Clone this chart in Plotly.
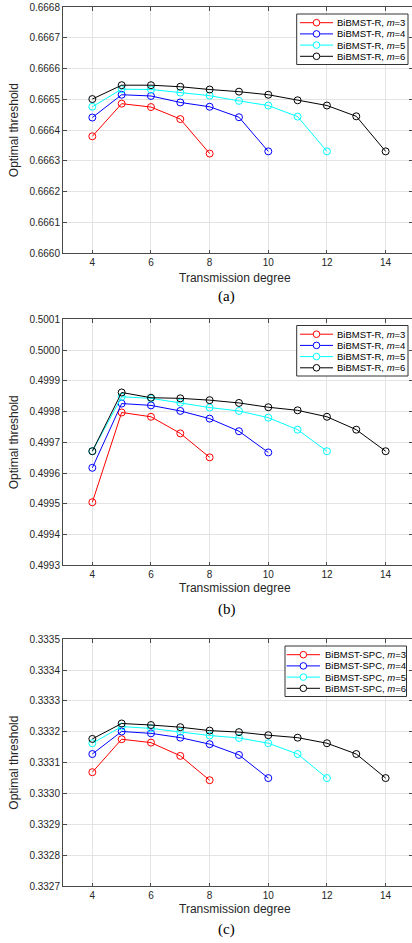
import plotly.graph_objects as go

# ---------------- data ----------------
deg_m3 = [4, 5, 6, 7, 8]
deg_m4 = [4, 5, 6, 7, 8, 9, 10]
deg_m5 = [4, 5, 6, 7, 8, 9, 10, 11, 12]
deg_m6 = [4, 5, 6, 7, 8, 9, 10, 11, 12, 13, 14]

a_m3 = [0.666380, 0.666486, 0.666475, 0.666436, 0.666324]
a_m4 = [0.666441, 0.666515, 0.666511, 0.666490, 0.666476, 0.666442, 0.666331]
a_m5 = [0.666476, 0.666533, 0.666532, 0.666522, 0.666512, 0.666495, 0.666480, 0.666444, 0.666331]
a_m6 = [0.666501, 0.666546, 0.666546, 0.666541, 0.666532, 0.666525, 0.666515, 0.666497, 0.666480, 0.666445, 0.666331]

b_m3 = [0.499505, 0.499797, 0.499783, 0.499729, 0.499651]
b_m4 = [0.499617, 0.499826, 0.499820, 0.499802, 0.499777, 0.499736, 0.499667]
b_m5 = [0.499671, 0.499848, 0.499843, 0.499829, 0.499813, 0.499802, 0.499780, 0.499741, 0.499671]
b_m6 = [0.499671, 0.499862, 0.499845, 0.499843, 0.499837, 0.499828, 0.499814, 0.499804, 0.499783, 0.499741, 0.499671]

c_m3 = [0.333069, 0.333176, 0.333165, 0.333122, 0.333043]
c_m4 = [0.333128, 0.333201, 0.333195, 0.333181, 0.333160, 0.333125, 0.333050]
c_m5 = [0.333163, 0.333217, 0.333211, 0.333200, 0.333188, 0.333180, 0.333163, 0.333128, 0.333050]
c_m6 = [0.333177, 0.333227, 0.333222, 0.333215, 0.333204, 0.333199, 0.333189, 0.333181, 0.333163, 0.333128, 0.333050]

m_values = [3, 4, 5, 6]
series_colors = ["#FF0000", "#0000FF", "#00FFFF", "#000000"]
panel_methods = ["BiBMST-R", "BiBMST-R", "BiBMST-SPC"]
panel_labels = ["(a)", "(b)", "(c)"]
y_ranges = [(0.6660, 0.6668), (0.4993, 0.5001), (0.3327, 0.3335)]
x_ticks = [4, 6, 8, 10, 12, 14]
x_title = "Transmission degree"
y_title = "Optimal threshold"

degrees = [deg_m3, deg_m4, deg_m5, deg_m6]
panels = [[a_m3, a_m4, a_m5, a_m6], [b_m3, b_m4, b_m5, b_m6], [c_m3, c_m4, c_m5, c_m6]]

# ---------------- layout geometry (pixels) ----------------
W, H = 412, 943
L, R, T, B = 63, 412, 7, 886
panel_px = [(7, 253.3), (319.3, 565.3), (639.3, 886)]


def px2x(px):
    return (px - L) / (R - L)


def py2y(py):
    return (B - py) / (B - T)


fig = go.Figure()

axis_color = "#4a4a4a"
grid_color = "#e3e3e3"
tick_font = dict(family="Liberation Sans, Arial, sans-serif", size=10, color="#262626")

layout = dict(
    width=W, height=H,
    margin=dict(l=L, r=W - R, t=T, b=H - B, pad=0),
    paper_bgcolor="white", plot_bgcolor="white",
    showlegend=False,
    annotations=[], shapes=[],
)

for p in range(3):
    sfx = "" if p == 0 else str(p + 1)
    xa, ya = "x" + sfx, "y" + sfx
    top, bot = panel_px[p]
    for k in range(4):
        fig.add_trace(go.Scatter(
            x=degrees[k], y=panels[p][k], mode="lines+markers",
            xaxis=xa, yaxis=ya,
            line=dict(color=series_colors[k], width=1),
            marker=dict(symbol="circle-open", size=7, color=series_colors[k],
                        line=dict(width=1, color=series_colors[k])),
            name=f"{panel_methods[p]}, m={m_values[k]}",
        ))
    y0, y1 = y_ranges[p]
    yt = [round(y0 + i * 0.0001, 4) for i in range(9)]
    layout["xaxis" + sfx] = dict(
        domain=[0, 1], anchor=ya, range=[3, 14.9],
        tickvals=x_ticks, ticktext=[str(v) for v in x_ticks],
        showline=True, linecolor=axis_color, linewidth=1, mirror="ticks",
        ticks="inside", ticklen=3.5, tickcolor=axis_color, tickwidth=1,
        showgrid=True, gridcolor=grid_color, gridwidth=1,
        zeroline=False, tickfont=tick_font, fixedrange=True,
    )
    layout["yaxis" + sfx] = dict(
        domain=[py2y(bot), py2y(top)], anchor=xa, range=[y0, y1],
        tickvals=yt, ticktext=[f"{v:.4f}" for v in yt],
        showline=True, linecolor=axis_color, linewidth=1, mirror="ticks",
        ticks="inside", ticklen=3.5, tickcolor=axis_color, tickwidth=1,
        showgrid=True, gridcolor=grid_color, gridwidth=1,
        zeroline=False, tickfont=tick_font, fixedrange=True,
    )

    # axis titles and panel label
    xt_y = [278.3, 588.3, 909.3][p]
    lab_y = [296.7, 609, 929.3][p]
    layout["annotations"].append(dict(
        text=x_title, xref="paper", yref="paper", x=px2x(234.7), y=py2y(xt_y),
        xanchor="center", yanchor="middle", showarrow=False,
        font=dict(family="Liberation Sans, Arial, sans-serif", size=12, color="#262626")))
    layout["annotations"].append(dict(
        text=panel_labels[p], xref="paper", yref="paper", x=px2x(226.8), y=py2y(lab_y),
        xanchor="center", yanchor="middle", showarrow=False,
        font=dict(family="Liberation Serif, Times New Roman, serif", size=15, color="#000000")))
    layout["annotations"].append(dict(
        text=y_title, xref="paper", yref="paper", x=px2x(14), y=py2y((top + bot) / 2),
        xanchor="center", yanchor="middle", showarrow=False, textangle=-90,
        font=dict(family="Liberation Sans, Arial, sans-serif", size=12, color="#262626")))

    # legend box (drawn in paper space)
    if p < 2:
        bx0, bx1 = 296.7, 408.0
        lx0, lx1, tx = 300.0, 333.0, 335.0
    else:
        bx0, bx1 = 285.0, 406.5
        lx0, lx1, tx = 286.7, 320.0, 322.7
    by0 = [14.0, 325.5, 646.0][p]
    by1 = by0 + 50.5
    layout["shapes"].append(dict(
        type="rect", xref="paper", yref="paper",
        x0=px2x(bx0), x1=px2x(bx1), y0=py2y(by1), y1=py2y(by0),
        line=dict(color="#333333", width=1), fillcolor="white", layer="above"))
    for k in range(4):
        cy = by0 + 8.7 + 11.2 * k
        cx = (lx0 + lx1) / 2
        col = series_colors[k]
        layout["shapes"].append(dict(
            type="line", xref="paper", yref="paper",
            x0=px2x(lx0), x1=px2x(lx1), y0=py2y(cy), y1=py2y(cy),
            line=dict(color=col, width=1), layer="above"))
        r = 3.3
        layout["shapes"].append(dict(
            type="circle", xref="paper", yref="paper",
            x0=px2x(cx - r), x1=px2x(cx + r), y0=py2y(cy + r), y1=py2y(cy - r),
            line=dict(color=col, width=1), fillcolor="white", layer="above"))
        layout["annotations"].append(dict(
            text=f"{panel_methods[p]}, <i>m</i>={m_values[k]}",
            xref="paper", yref="paper", x=px2x(tx), y=py2y(cy),
            xanchor="left", yanchor="middle", showarrow=False,
            font=dict(family="Liberation Sans, Arial, sans-serif", size=9.5, color="#000000")))

fig.update_layout(**layout)
fig.write_html("out.html", config={"displayModeBar": False})
